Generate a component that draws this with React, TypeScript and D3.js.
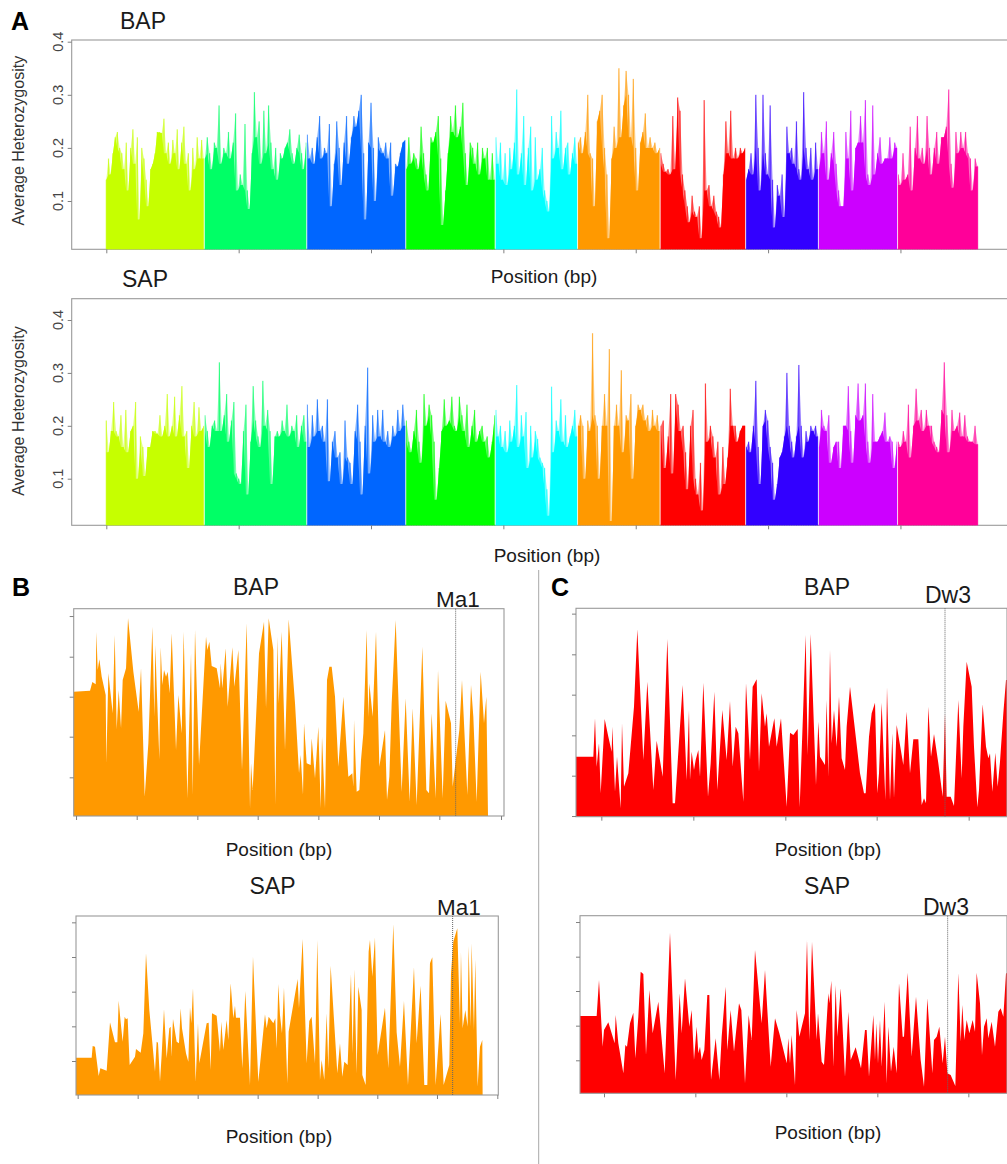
import React, { useEffect, useRef } from 'react';
import * as d3 from 'd3';

// genome wide scan, chromosome boundaries in Mb
const chromStarts = [0, 74, 151.4, 226.2, 293.8, 356, 418.4, 483, 538, 597.8];
const chromEnds = [74, 151.4, 226.2, 293.8, 356, 418.4, 483, 538, 597.8, 658.6];
const chromColors = ['#C6FF00', '#00FF66', '#0066FF', '#00FF00', '#00FFFF', '#FF9900', '#FF0000', '#3300FF', '#CC00FF', '#FF0099'];
const genomeTicks = [0, 100, 200, 300, 400, 500, 600];
const hetTicks = [0.1, 0.2, 0.3, 0.4];

const bapChr1 = [.14,.18,.15,.19,.22,.23,.20,.19,.16,.21,.12,.20,.235,.17,.22,.065,.20,.18,.14,.09,.16,.17,.19,.23,.23,.228,.255,.19,.21,.17,.215,.19,.235,.16,.21,.24,.17,.19,.12,.2,.16,.22,.18,.215,.18];
const bapChr2 = [.18,.22,.19,.16,.21,.20,.28,.17,.20,.19,.23,.18,.21,.265,.12,.15,.13,.245,.12,.085,.19,.305,.22,.25,.17,.27,.19,.28,.21,.16,.20,.14,.19,.18,.20,.21,.235,.19,.17,.20,.225,.19,.16,.21];
const bapChr3 = [.225,.18,.20,.17,.22,.26,.18,.20,.19,.245,.09,.17,.25,.20,.13,.21,.26,.17,.22,.26,.24,.27,.30,.19,.065,.21,.285,.20,.10,.22,.20,.19,.21,.18,.21,.11,.17,.165,.19,.21,.215];
const bapChr4 = [.16,.22,.17,.19,.18,.16,.24,.19,.15,.12,.22,.21,.23,.26,.18,.055,.12,.19,.26,.23,.28,.22,.24,.285,.19,.13,.21,.20,.17,.21,.15,.20,.18,.20,.14,.19,.14];
const bapChr5 = [.22,.17,.21,.14,.19,.13,.2,.16,.21,.31,.15,.19,.26,.13,.2,.24,.12,.22,.14,.16,.2,.12,.10,.08,.26,.18,.23,.2,.27,.16,.2,.21,.15,.19,.22,.17];
const bapChr6 = [.21,.22,.19,.23,.30,.19,.18,.09,.25,.27,.30,.2,.15,.03,.18,.24,.2,.35,.22,.28,.345,.3,.22,.33,.2,.12,.21,.23,.265,.2,.22,.2,.21,.19,.2];
const bapChr7 = [.19,.17,.155,.16,.15,.26,.16,.295,.27,.15,.12,.09,.06,.11,.08,.07,.09,.03,.29,.12,.13,.09,.11,.08,.07,.05,.15,.25,.19,.27,.18,.2,.18,.2,.19,.2];
const bapChr8 = [.14,.16,.19,.15,.30,.2,.12,.30,.19,.15,.28,.14,.05,.13,.11,.15,.07,.24,.19,.2,.17,.25,.16,.14,.305,.2,.16,.2,.14,.21,.16];
const bapChr9 = [.16,.23,.19,.25,.14,.19,.23,.17,.12,.09,.09,.23,.18,.27,.12,.2,.21,.26,.21,.29,.15,.13,.28,.15,.19,.22,.17,.18,.18,.22,.18,.21,.2];
const bapChr10 = [.15,.13,.19,.14,.15,.24,.12,.2,.26,.18,.2,.17,.26,.2,.15,.2,.23,.17,.22,.22,.24,.31,.17,.125,.23,.19,.23,.2,.23,.19,.18,.12,.18,.165];

const sapChr1 = [.21,.15,.19,.245,.19,.18,.22,.16,.23,.15,.19,.2,.245,.10,.18,.16,.105,.16,.16,.19,.19,.185,.22,.18,.2,.26,.18,.2,.255,.18,.22,.275,.18,.19,.12,.2,.245,.18,.235,.19,.2];
const sapChr2 = [.22,.19,.16,.2,.21,.19,.32,.19,.22,.26,.17,.21,.245,.11,.1,.09,.19,.24,.07,.17,.275,.21,.18,.16,.285,.2,.23,.19,.09,.18,.19,.18,.21,.19,.24,.18,.2,.19,.22,.16,.2,.22,.17];
const sapChr3 = [.24,.16,.22,.18,.25,.19,.2,.17,.25,.095,.17,.19,.14,.15,.09,.21,.14,.13,.09,.19,.24,.17,.07,.2,.31,.11,.22,.17,.23,.18,.23,.17,.19,.16,.2,.18,.23,.19,.24,.2];
const sapChr4 = [.21,.17,.15,.19,.23,.17,.13,.26,.2,.24,.22,.17,.06,.12,.19,.25,.2,.21,.255,.2,.19,.255,.22,.19,.24,.16,.2,.23,.17,.19,.2,.17,.18,.14,.17,.22];
const sapChr5 = [.23,.18,.2,.16,.19,.15,.21,.17,.2,.277,.16,.22,.18,.226,.12,.2,.14,.19,.175,.14,.13,.12,.08,.03,.274,.15,.21,.19,.25,.17,.22,.16,.18,.2,.23,.18];
const sapChr6 = [.2,.22,.2,.1,.21,.19,.375,.22,.2,.1,.2,.26,.2,.345,.02,.2,.24,.2,.305,.15,.22,.21,.26,.1,.2,.24,.23,.24,.21,.22,.19,.23,.2,.22,.19];
const sapChr7 = [.2,.21,.12,.18,.26,.11,.26,.24,.19,.2,.15,.08,.2,.23,.1,.07,.13,.04,.28,.17,.2,.18,.14,.17,.07,.16,.09,.14,.27,.2,.2,.17,.19,.2,.2];
const sapChr8 = [.16,.17,.15,.2,.285,.16,.09,.2,.23,.21,.16,.13,.06,.09,.14,.15,.18,.3,.2,.17,.14,.18,.315,.2,.14,.19,.17,.2,.19,.2,.18];
const sapChr9 = [.16,.23,.2,.19,.22,.13,.16,.17,.17,.12,.2,.2,.275,.19,.13,.22,.28,.21,.22,.28,.17,.13,.26,.17,.17,.18,.19,.225,.17,.18,.17,.12,.17];
const sapChr10 = [.17,.16,.19,.17,.24,.14,.2,.27,.21,.23,.19,.23,.2,.2,.17,.16,.15,.23,.32,.22,.15,.23,.19,.2,.225,.18,.22,.18,.17,.17,.2,.165];

const bapChroms = [bapChr1, bapChr2, bapChr3, bapChr4, bapChr5, bapChr6, bapChr7, bapChr8, bapChr9, bapChr10];
const sapChroms = [sapChr1, sapChr2, sapChr3, sapChr4, sapChr5, sapChr6, sapChr7, sapChr8, sapChr9, sapChr10];

// zoomed regions: [position, height], units are arbitrary because the axes carry no labels
const ma1Bap = [[221,373],[270,376],[277,402],[287,395],[289,552],[293,438],[298,470],[305,418],[317,363],[319,160],[325,428],[338,308],[344,543],[350,260],[356,378],[363,263],[368,408],[378,443],[384,593],[400,433],[416,313],[423,443],[434,58],[445,218],[457,568],[463,298],[466,513],[470,388],[478,170],[482,506],[487,393],[492,438],[498,418],[503,433],[509,368],[515,548],[528,198],[535,363],[545,248],[551,553],[562,53],[573,488],[578,63],[585,558],[597,153],[618,538],[622,498],[628,523],[635,450],[650,443],[660,383],[662,458],[667,383],[677,503],[683,328],[697,506],[703,388],[715,498],[726,138],[740,578],[750,23],[753,158],[758,78],[777,488],[792,583],[798,323],[806,593],[820,498],[826,33],[832,538],[836,338],[845,553],[855,198],[866,590],[885,338],[897,128],[902,183],[909,63],[912,278],[920,158],[932,153],[935,233],[945,113],[955,268],[962,23],[966,238],[975,23],[981,408],[988,448],[995,448],[1005,358],[1015,148],[1030,358],[1045,118],[1057,128],[1060,88],[1062,288],[1070,73],[1078,78],[1083,168],[1090,248],[1100,558],[1105,298],[1108,398],[1118,298],[1128,553],[1138,148],[1155,258],[1161,48],[1168,118],[1175,338],[1187,588],[1205,73],[1217,353],[1229,43],[1238,323],[1250,33],[1267,508],[1279,78],[1287,68],[1295,308],[1307,53],[1314,438],[1328,53],[1337,346],[1353,278],[1358,88],[1365,148],[1378,258],[1386,408],[1402,63],[1413,393],[1420,298],[1430,43],[1442,433],[1452,278],[1459,358],[1464,0]];
const ma1Sap = [[228,112],[275,112],[278,147],[285,145],[296,57],[301,80],[320,73],[330,218],[345,158],[352,158],[356,283],[362,218],[368,160],[374,235],[378,227],[383,230],[389,90],[405,115],[408,138],[422,127],[430,185],[438,425],[448,255],[465,70],[470,160],[474,157],[480,40],[485,120],[492,257],[500,110],[508,200],[512,205],[514,115],[519,228],[530,160],[537,155],[542,260],[546,200],[558,125],[565,100],[570,263],[574,215],[579,320],[587,40],[594,215],[598,95],[620,215],[626,217],[632,75],[636,245],[650,238],[660,130],[664,220],[670,135],[680,225],[685,165],[692,335],[700,230],[705,268],[708,232],[720,232],[727,80],[736,312],[750,30],[759,415],[775,40],[795,242],[800,200],[806,235],[820,215],[826,230],[830,140],[835,333],[840,240],[846,185],[852,322],[862,35],[866,190],[893,348],[897,260],[908,468],[920,95],[928,222],[935,235],[945,95],[952,465],[960,45],[965,105],[973,45],[980,245],[985,80],[992,388],[1012,65],[1020,155],[1027,55],[1033,100],[1043,90],[1053,362],[1058,125],[1063,377],[1070,65],[1075,325],[1085,255],[1087,60],[1097,30],[1106,430],[1110,465],[1117,355],[1125,472],[1133,120],[1155,262],[1165,80],[1180,512],[1190,188],[1200,85],[1212,282],[1224,30],[1242,383],[1250,155],[1262,328],[1273,30],[1282,30],[1290,395],[1297,413],[1307,30],[1322,243],[1331,30],[1348,90],[1353,363],[1360,460],[1372,500],[1380,215],[1383,428],[1388,200],[1396,255],[1403,205],[1406,447],[1412,205],[1415,455],[1422,195],[1426,407],[1433,25],[1440,145],[1447,165],[1448,0]];
const dw3Bap = [[138,180],[190,180],[195,295],[200,150],[207,220],[212,70],[224,293],[235,240],[245,195],[247,270],[255,75],[261,180],[272,25],[276,280],[282,90],[295,130],[312,330],[322,562],[340,170],[352,405],[370,80],[380,228],[398,120],[412,533],[428,40],[435,40],[458,395],[470,110],[477,320],[480,110],[485,195],[492,140],[497,170],[505,200],[510,120],[520,402],[534,60],[542,160],[553,375],[562,80],[577,320],[590,170],[600,347],[608,150],[617,270],[625,250],[640,45],[648,400],[660,170],[668,390],[680,412],[687,135],[695,370],[705,270],[710,310],[717,210],[733,295],[740,210],[753,295],[770,30],[780,252],[790,245],[803,263],[809,28],[820,335],[827,545],[833,185],[842,548],[858,95],[865,285],[870,180],[885,155],[890,350],[895,120],[900,500],[905,220],[912,320],[920,210],[927,360],[935,175],[945,140],[950,270],[960,390],[975,260],[990,130],[1002,70],[1007,70],[1017,240],[1025,310],[1035,342],[1042,70],[1047,130],[1055,342],[1066,50],[1071,388],[1080,50],[1087,250],[1092,55],[1100,275],[1120,155],[1130,315],[1140,130],[1150,232],[1165,232],[1175,35],[1182,55],[1188,40],[1195,330],[1203,180],[1212,248],[1225,160],[1238,60],[1245,310],[1250,60],[1262,60],[1272,32],[1285,350],[1295,115],[1300,270],[1310,465],[1325,390],[1332,210],[1342,28],[1347,80],[1358,337],[1368,210],[1375,175],[1380,190],[1387,75],[1396,192],[1403,90],[1410,165],[1420,310],[1428,410],[1431,410]];
const dw3Sap = [[150,232],[200,232],[207,340],[218,140],[222,190],[235,213],[254,150],[257,235],[265,150],[280,60],[286,145],[291,140],[300,210],[310,242],[316,105],[325,230],[332,365],[340,358],[348,115],[358,310],[368,180],[385,275],[404,60],[420,482],[437,40],[449,300],[455,180],[465,345],[478,200],[485,250],[492,100],[500,200],[505,120],[510,140],[515,100],[523,130],[532,295],[538,295],[543,40],[557,165],[568,40],[575,170],[587,320],[592,130],[602,250],[612,125],[627,270],[634,250],[645,30],[656,235],[665,160],[675,430],[695,210],[705,370],[722,80],[735,225],[748,180],[758,140],[770,90],[775,165],[780,90],[785,175],[795,25],[800,250],[808,170],[825,240],[831,460],[838,160],[846,455],[860,160],[864,240],[875,95],[882,85],[895,300],[898,270],[904,338],[910,80],[917,325],[922,170],[932,315],[945,50],[955,245],[962,100],[977,138],[993,75],[1005,190],[1010,190],[1017,50],[1030,235],[1035,100],[1039,210],[1044,90],[1050,220],[1055,80],[1064,275],[1070,30],[1075,200],[1083,65],[1091,140],[1100,60],[1107,330],[1118,170],[1122,170],[1133,362],[1145,110],[1158,290],[1172,100],[1182,20],[1192,285],[1207,60],[1212,160],[1220,170],[1228,200],[1238,90],[1245,170],[1252,60],[1262,55],[1276,22],[1285,360],[1292,155],[1297,265],[1303,160],[1310,220],[1318,180],[1328,220],[1335,185],[1340,362],[1350,270],[1356,115],[1362,200],[1370,225],[1375,165],[1385,215],[1395,140],[1405,245],[1412,255],[1420,230],[1428,360],[1431,360]];

const ma1BapXTicks = [228, 410, 592, 773, 955, 1137, 1318, 1503];
const ma1SapXTicks = [233, 413, 593, 773, 953, 1132, 1311, 1492];
const dw3BapXTicks = [214, 490, 766, 1040, 1316];
const dw3SapXTicks = [222, 496, 769, 1042, 1315];
const ma1BapYTicks = [116, 238, 358, 478, 600];
const ma1SapYTicks = [102, 206, 310, 414, 518];
const dw3BapYTicks = [2, 123, 244, 366, 487, 609];
const dw3SapYTicks = [99, 203, 307, 410, 514];

const FONT = '"Liberation Sans", Arial, sans-serif';
const GREY = '#9a9a9a';

export default function App() {
    const svgRef = useRef<SVGSVGElement>(null);

    useEffect(() => {
        if (!svgRef.current) return;
        const svg = d3.select(svgRef.current);
        svg.selectAll('*').remove();

        // the source is a resampled scan, so the marks are a little soft
        svg.append('defs').append('filter').attr('id', 'soft')
            .append('feGaussianBlur').attr('stdDeviation', 0.4);

        const label = (x, y, str, size, anchor = 'middle', weight = 'normal', fill = '#1a1a1a') =>
            svg.append('text').attr('x', x).attr('y', y).text(str)
                .attr('font-size', size).attr('font-family', FONT).attr('text-anchor', anchor)
                .attr('font-weight', weight).attr('fill', fill);

        const frame = (x0, x1, y0, y1) =>
            svg.append('rect').attr('x', x0).attr('y', y0).attr('width', x1 - x0).attr('height', y1 - y0)
                .attr('fill', 'none').attr('stroke', GREY).attr('stroke-width', 1.1);

        const drawAxes = (x, y, xTicks, yTicks, baseY, leftX) => {
            const xAxis = svg.append('g').attr('transform', `translate(0,${baseY})`)
                .call(d3.axisBottom(x).tickValues(xTicks).tickSize(4).tickFormat(() => ''));
            const yAxis = svg.append('g').attr('transform', `translate(${leftX},0)`)
                .call(d3.axisLeft(y).tickValues(yTicks).tickSize(4).tickFormat(() => ''));
            [xAxis, yAxis].forEach(a => {
                a.select('.domain').remove();
                a.selectAll('line').attr('stroke', '#808080').attr('stroke-width', 1);
            });
        };

        // panel A: solid body under neighbouring minima, pale windows rising out of it
        const genomePanel = (chroms, top, bottom, y41) => {
            const x = d3.scaleLinear().domain([0, 658.6]).range([106.3, 978]);
            const y = d3.scaleLinear().domain([0.1, 0.4]).range(y41);
            frame(71.7, 1020, top, bottom);
            chroms.forEach((vals, c) => {
                const pos = d3.scaleLinear().domain([0, vals.length - 1])
                    .range([chromStarts[c] + (c ? 0.5 : 0), chromEnds[c] - 0.3]);
                const body = vals.map((v, i) => Math.min(v, vals[i + 1] ?? v));
                const area = d3.area<number>()
                    .x((_, i) => x(pos(i)))
                    .y0(bottom)
                    .y1(d => y(d));
                const g = svg.append('g').attr('filter', 'url(#soft)');
                g.append('path').attr('d', area(vals)).attr('fill', chromColors[c]).attr('opacity', 0.5);
                g.selectAll('rect').data(vals).enter().append('rect')
                    .attr('x', (_, i) => x(pos(i)) - 0.6)
                    .attr('width', 1.2)
                    .attr('y', d => y(d))
                    .attr('height', d => bottom - y(d))
                    .attr('fill', chromColors[c])
                    .attr('opacity', 0.7);
                g.append('path').attr('d', area(body)).attr('fill', chromColors[c]);
            });
            // thin white gaps between chromosomes
            chromStarts.slice(1).forEach(s => {
                svg.append('line').attr('x1', x(s)).attr('x2', x(s))
                    .attr('y1', y(0.24)).attr('y2', bottom - 0.6)
                    .attr('stroke', '#fff').attr('stroke-width', 0.9).attr('opacity', 0.8);
            });
            drawAxes(x, y, genomeTicks, hetTicks, bottom, 71.7);
            hetTicks.forEach(t => {
                svg.append('text').text(t.toFixed(1))
                    .attr('transform', `translate(62.5,${y(t)}) rotate(-90)`)
                    .attr('text-anchor', 'middle').attr('font-size', 14.5)
                    .attr('font-family', FONT).attr('fill', '#444');
            });
            svg.append('text').text('Average Heterozygosity')
                .attr('transform', `translate(24,${(bottom + top) / 2 + (top < 100 ? -4 : -1)}) rotate(-90)`)
                .attr('text-anchor', 'middle').attr('font-size', 16)
                .attr('font-family', FONT).attr('fill', '#333');
        };

        genomePanel(bapChroms, 40, 249.3, [201, 41.7]);
        genomePanel(sapChroms, 298.7, 525.3, [478.7, 320]);

        // panels B and C, single region with the gene marked
        const regionPanel = (pts, color, xDom, xRange, top, bottom, topH, xTicks, yTicks, marker) => {
            const x = d3.scaleLinear().domain(xDom).range(xRange);
            const y = d3.scaleLinear().domain([0, topH]).range([bottom, top]);
            const area = d3.area<number[]>().x(d => x(d[0])).y0(bottom).y1(d => y(d[1]));
            svg.append('path').attr('d', area(pts)).attr('fill', color).attr('filter', 'url(#soft)');
            frame(xRange[0], xRange[1], top, bottom);
            drawAxes(x, y, xTicks, yTicks, bottom, xRange[0]);
            svg.append('line').attr('x1', x(marker)).attr('x2', x(marker))
                .attr('y1', top).attr('y2', bottom)
                .attr('stroke', '#666').attr('stroke-width', 1).attr('stroke-dasharray', '1,1');
        };

        regionPanel(ma1Bap, '#FF9900', [221, 1512], [73.7, 504], 608.7, 816, 622, ma1BapXTicks, ma1BapYTicks, 1367);
        regionPanel(ma1Sap, '#FF9900', [228, 1495], [76, 498.3], 916, 1095, 537, ma1SapXTicks, ma1SapYTicks, 1358);
        regionPanel(dw3Bap, '#FF0000', [138, 1431], [576, 1007], 608.3, 816.7, 625, dw3BapXTicks, dw3BapYTicks, 1245);
        regionPanel(dw3Sap, '#FF0000', [150, 1431], [580, 1007], 915.7, 1093.3, 533, dw3SapXTicks, dw3SapYTicks, 1253);

        // divider between B and C
        svg.append('line').attr('x1', 538.7).attr('x2', 538.7).attr('y1', 570).attr('y2', 1164)
            .attr('stroke', '#a8a8a8').attr('stroke-width', 1);

        label(11, 30, 'A', 25, 'start', 'bold', '#000');
        label(12, 596, 'B', 25, 'start', 'bold', '#000');
        label(551, 596, 'C', 25, 'start', 'bold', '#000');

        label(143, 29, 'BAP', 23);
        label(145, 287, 'SAP', 23);
        label(544, 283, 'Position (bp)', 19);
        label(547, 562, 'Position (bp)', 19);

        label(256, 595, 'BAP', 23);
        label(272.5, 894, 'SAP', 23);
        label(458, 607, 'Ma1', 22.5);
        label(459, 915, 'Ma1', 22.5);
        label(279, 856, 'Position (bp)', 19);
        label(279, 1143, 'Position (bp)', 19);

        label(827, 595, 'BAP', 23);
        label(827, 894, 'SAP', 23);
        label(948, 603, 'Dw3', 23);
        label(946, 915, 'Dw3', 23);
        label(828, 856, 'Position (bp)', 19);
        label(828, 1139, 'Position (bp)', 19);
    }, []);

    return (
        <svg ref={svgRef} width={1007} height={1164}
            style={{ position: 'absolute', left: 0, top: 0, background: '#fff' }} />
    );
}
